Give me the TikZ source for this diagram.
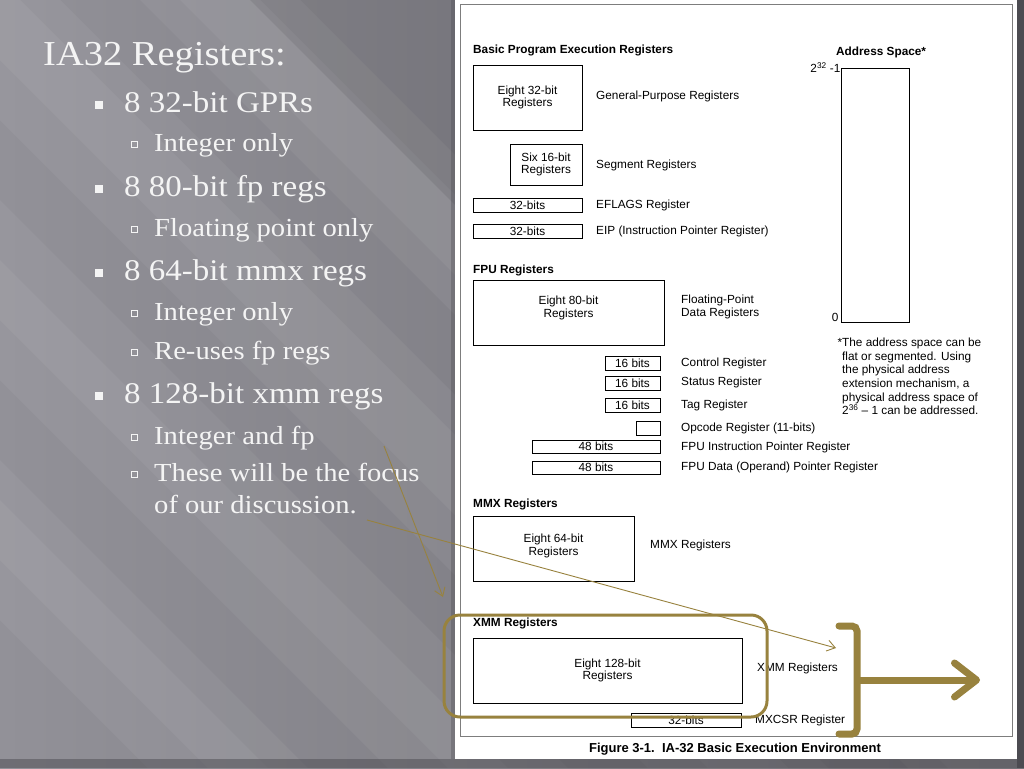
\documentclass[tikz,border=0pt]{standalone}
\usepackage{fontspec}
\setmainfont{Liberation Serif}[FakeStretch=1.1]
\newfontfamily\figfont{Liberation Sans}
\usetikzlibrary{arrows.meta,positioning}
\definecolor{bgleft}{RGB}{146,145,152}
\definecolor{bgright}{RGB}{112,111,117}
\definecolor{bgdark}{RGB}{76,75,81}
\definecolor{slidetxt}{RGB}{244,244,244}
\definecolor{hlolive}{RGB}{152,130,62}
\definecolor{panelgray}{RGB}{125,125,125}

\begin{document}
\begin{tikzpicture}[x=1pt,y=-1pt,
  ttl/.style={anchor=base west,inner sep=0pt,text=slidetxt,font=\fontsize{35}{38}\selectfont},
  bul/.style={anchor=base west,inner sep=0pt,text=slidetxt,font=\fontsize{30}{34}\selectfont},
  subbul/.style={anchor=base west,inner sep=0pt,text=slidetxt,font=\fontsize{26}{31}\selectfont},
  regbox/.style={draw,line width=0.7pt,inner sep=0pt,font=\figfont\fontsize{11.8}{12.8}\selectfont,align=center},
  reglbl/.style={anchor=west,inner sep=0pt,font=\figfont\fontsize{11.8}{13.6}\selectfont,align=left},
  grphead/.style={anchor=base west,inner sep=0pt,font=\figfont\bfseries\fontsize{11.8}{13}\selectfont},
  hilite/.style={draw=hlolive,line width=3pt},
  pointer/.style={draw=hlolive,line width=0.9pt,-{Straight Barb[length=8pt,width=11pt]}}]
  \useasboundingbox (0,0) rectangle (1024,768);
  % Slide background
  \shade[left color=bgleft,right color=bgright] (0,0) rectangle (1024,768);
  \foreach \a/\b in {-120/60,-60/20,140/300,180/260,-380/-200,-320/-260,-620/-460,-560/-500}
    \fill[white,opacity=0.05] (\a,0) -- (\b,0) -- (\b+768,768) -- (\a+768,768) -- cycle;
  \fill[black,opacity=0.08] (250,0) -- (460,0) -- (460,210) -- cycle;
  \fill[bgdark] (1017,0) rectangle (1024,768);
  \fill[bgdark,opacity=0.5] (0,759) rectangle (1024,768);
  \fill[bgdark,opacity=0.35] (451,0) rectangle (455,759);

  % Slide text
  \node[ttl] (title) at (43,65) {IA32 Registers:};
  \node[bul] (gprs) at (124,112) {8 32-bit GPRs};
  \node[subbul] (gprint) at (154,151) {Integer only};
  \node[bul] (fpregs) at (124,196) {8 80-bit fp regs};
  \node[subbul] (fponly) at (154,236) {Floating point only};
  \node[bul] (mmxregs) at (124,280) {8 64-bit mmx regs};
  \node[subbul] (mmxint) at (154,320) {Integer only};
  \node[subbul] (mmxreuse) at (154,359) {Re-uses fp regs};
  \node[bul] (xmmregs) at (124,403) {8 128-bit xmm regs};
  \node[subbul] (xmmboth) at (154,444) {Integer and fp};
  \node[subbul] (focusa) at (154,481) {These will be the focus};
  \node[subbul] (focusb) at (154,513) {of our discussion.};
  \foreach \y in {112,196,280,403}
    \fill[slidetxt] (95,\y-11) rectangle ++(8,8);
  \foreach \y in {151,236,320,359,444,481}
    \draw[slidetxt,line width=1pt] (131,\y-10) rectangle ++(6,6);

  % Figure panel
  \fill[white] (455,0) rectangle (1017,759);
  \draw[panelgray,line width=1pt] (460,5) rectangle (1012,736);

  % Basic program execution registers
  \node[grphead] (basichd) at (473,54) {Basic Program Execution Registers};
  \node[regbox,minimum width=109,minimum height=65] (gpr) at (527.5,97.5) {Eight 32-bit\\Registers};
  \node[reglbl] (gprlbl) at (596,96) {General-Purpose Registers};
  \node[regbox,minimum width=72,minimum height=41] (seg) at (546,164.5) {Six 16-bit\\Registers};
  \node[reglbl] (seglbl) at (596,165) {Segment Registers};
  \node[regbox,minimum width=109,minimum height=14] (eflags) at (527.5,205) {32-bits};
  \node[reglbl] (eflagslbl) at (596,205) {EFLAGS Register};
  \node[regbox,minimum width=109,minimum height=14] (eip) at (527.5,231.5) {32-bits};
  \node[reglbl] (eiplbl) at (596,231) {EIP (Instruction Pointer Register)};

  % Address space
  \node[grphead] (addrhd) at (836,56) {Address Space*};
  \node[regbox,minimum width=68,minimum height=254] (addr) at (875,195) {};
  \node[reglbl,anchor=east] (addrtop) at (addr.north west) {2\textsuperscript{32} -1};
  \node[reglbl,anchor=south east] (addrlow) at ([xshift=-2pt,yshift=1pt]addr.south west) {0};
  \node[reglbl,anchor=north west] (addrnote) at (842,338)
    {\llap{*}The address space can be\\flat or segmented. Using\\the physical address\\extension mechanism, a\\physical address space of\\2\textsuperscript{36} – 1 can be addressed.};

  % FPU registers
  \node[grphead] (fpuhd) at (473,273) {FPU Registers};
  \node[regbox,minimum width=191,minimum height=65,text depth=12pt] (fpr) at (568.5,312.5) {Eight 80-bit\\Registers};
  \node[reglbl] (fprlbl) at (681,307) {Floating-Point\\Data Registers};
  \node[regbox,minimum width=55,minimum height=14] (ctrl) at (632.5,363) {16 bits};
  \node[reglbl] (ctrllbl) at (681,363) {Control Register};
  \node[regbox,minimum width=55,minimum height=14] (stat) at (632.5,383) {16 bits};
  \node[reglbl] (statlbl) at (681,382) {Status Register};
  \node[regbox,minimum width=55,minimum height=14] (tag) at (632.5,405) {16 bits};
  \node[reglbl] (taglbl) at (681,405) {Tag Register};
  \node[regbox,minimum width=24,minimum height=14] (opc) at (648,428) {};
  \node[reglbl] (opclbl) at (681,428) {Opcode Register (11-bits)};
  \node[regbox,minimum width=128,minimum height=13] (fip) at (596,446.5) {48 bits};
  \node[reglbl] (fiplbl) at (681,447) {FPU Instruction Pointer Register};
  \node[regbox,minimum width=128,minimum height=13] (fdp) at (596,467.5) {48 bits};
  \node[reglbl] (fdplbl) at (681,467) {FPU Data (Operand) Pointer Register};

  % MMX registers
  \node[grphead] (mmxhd) at (473,507) {MMX Registers};
  \node[regbox,minimum width=161,minimum height=65,text depth=8pt] (mmx) at (553.5,548.5) {Eight 64-bit\\Registers};
  \node[reglbl] (mmxlbl) at (650,545) {MMX Registers};

  % XMM registers
  \node[grphead] (xmmhd) at (473,626) {XMM Registers};
  \node[regbox,minimum width=269,minimum height=65] (xmm) at (607.5,670.5) {Eight 128-bit\\Registers};
  \node[reglbl] (xmmlbl) at (757,668) {XMM Registers};
  \node[regbox,minimum width=110,minimum height=14] (mxcsr) at (686,720) {32-bits};
  \node[reglbl] (mxcsrlbl) at (755,720) {MXCSR Register};

  \node[anchor=base,inner sep=0pt,font=\figfont\bfseries\fontsize{13}{14}\selectfont] (caption) at (735,752)
    {Figure 3-1.\ \ IA-32 Basic Execution Environment};

  % Highlights
  \draw[hilite,rounded corners=16pt] (444,615) rectangle (767,717);
  \draw[hilite,line width=7pt,line cap=round,rounded corners=5pt] (839,626) -- (857,626) -- (857,734) -- (839,734);
  \coordinate (brk) at (857,680);
  \coordinate (out) at (980,680);
  \draw[hilite,line width=7pt,-{Straight Barb[length=22pt,width=34pt,round]}] (brk) -- (out);

  % Pointers
  \coordinate (fromfocus) at (384,446);
  \coordinate (fromdisc) at (367,520);
  \coordinate (tofocus) at (443,597);
  \coordinate (toxmm) at (836,648);
  \draw[pointer] (fromfocus) -- (tofocus);
  \draw[pointer] (fromdisc) -- (toxmm);
\end{tikzpicture}
\end{document}
